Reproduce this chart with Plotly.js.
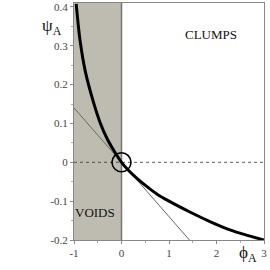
<!DOCTYPE html>
<html>
<head>
<meta charset="utf-8">
<script src="https://cdn.plot.ly/plotly-3.0.1.min.js"></script>
<style>html,body{margin:0;padding:0;background:#fff;}#chart{width:270px;height:270px;}</style>
</head>
<body>
<div id="chart"></div>
<script>
// Curve psi_A(phi_A)
const phiCurve = [-0.954, -0.874, -0.762, -0.594, -0.45, -0.30, -0.19, -0.10, 0, 0.15, 0.33, 0.55, 0.75, 1.0, 1.44, 1.85, 2.28, 2.65, 3.0];
const psiCurve = [0.408, 0.315, 0.234, 0.156, 0.102, 0.060, 0.036, 0.018, 0, -0.021, -0.042, -0.064, -0.082, -0.100, -0.128, -0.152, -0.174, -0.188, -0.200];
// Tangent line at origin
const phiTangent = [-1, 1.43];
const psiTangent = [0.14, -0.20];
// Zero reference line
const phiZero = [-1, 3];
const psiZero = [0, 0];
// Marked point
const phiPoint = [0];
const psiPoint = [0];
// Region bounds
const voidsPhi = [-1, 0];
// Tick labels
const xTickVals = [-1, 0, 1, 2, 3];
const xTickText = ["-1", "0", "1", "2", "3"];
const yTickVals = [0.4, 0.3, 0.2, 0.1, 0, -0.1, -0.2];
const yTickText = ["0.4", "0.3", "0.2", "0.1", "0", "-0.1", "-0.2"];
// Labels
const regionLabels = [{text: "CLUMPS", x: 1.88, y: 0.328}, {text: "VOIDS", x: -0.55, y: -0.128}];

const serif = "Liberation Serif, Times New Roman, serif";

const traces = [
  {x: phiZero, y: psiZero, mode: "lines", line: {color: "#333", width: 0.8, dash: "3px,3px"}, hoverinfo: "skip"},
  {x: phiTangent, y: psiTangent, mode: "lines", line: {color: "#666", width: 1}, hoverinfo: "skip"},
  {x: phiCurve, y: psiCurve, mode: "lines", line: {color: "#000", width: 3, shape: "spline", smoothing: 0.8}, hoverinfo: "skip"},
  {x: phiPoint, y: psiPoint, mode: "markers", marker: {symbol: "circle-open", size: 19, color: "#000", line: {width: 1.6, color: "#000"}}, hoverinfo: "skip"}
];

const annotations = regionLabels.map(l => ({
  text: l.text, x: l.x, y: l.y, xref: "x", yref: "y", showarrow: false,
  font: {family: serif, size: 13, color: "#111"}
}));
annotations.push({text: "ψ<sub>A</sub>", xref: "paper", yref: "paper", x: -0.053, y: 0.955,
  xanchor: "right", yanchor: "top", showarrow: false,
  font: {family: serif, size: 17, color: "#111"}});
annotations.push({text: "ϕ<sub>A</sub>", xref: "paper", yref: "paper", x: 0.86, y: -0.005,
  xanchor: "left", yanchor: "top", showarrow: false,
  font: {family: serif, size: 17, color: "#111"}});

const layout = {
  width: 270, height: 270,
  margin: {l: 74, r: 6, t: 3, b: 30},
  paper_bgcolor: "#fff", plot_bgcolor: "#fff",
  showlegend: false,
  shapes: [
    {type: "rect", xref: "x", yref: "paper", x0: voidsPhi[0], x1: voidsPhi[1], y0: 0, y1: 1,
     fillcolor: "#bebcb0", line: {width: 0}, layer: "below"},
    {type: "line", xref: "x", yref: "paper", x0: voidsPhi[1], x1: voidsPhi[1], y0: 0, y1: 1,
     line: {color: "#777", width: 1.5}, layer: "below"}
  ],
  xaxis: {
    range: [-1, 3], tickvals: xTickVals, ticktext: xTickText,
    showgrid: false, zeroline: false, showline: true, linecolor: "#888", linewidth: 1, mirror: true,
    ticks: "outside", ticklen: 3, tickcolor: "#888",
    minor: {dtick: 0.5, ticks: "outside", ticklen: 2, tickcolor: "#aaa", showgrid: false},
    tickfont: {family: serif, size: 11, color: "#444"}
  },
  yaxis: {
    range: [-0.2, 0.41], tickvals: yTickVals, ticktext: yTickText,
    showgrid: false, zeroline: false, showline: true, linecolor: "#888", linewidth: 1, mirror: true,
    ticks: "outside", ticklen: 3, tickcolor: "#888",
    minor: {dtick: 0.05, ticks: "outside", ticklen: 2, tickcolor: "#aaa", showgrid: false},
    tickfont: {family: serif, size: 11, color: "#444"}
  },
  annotations: annotations
};

Plotly.newPlot("chart", traces, layout, {staticPlot: true, displayModeBar: false});
</script>
</body>
</html>
